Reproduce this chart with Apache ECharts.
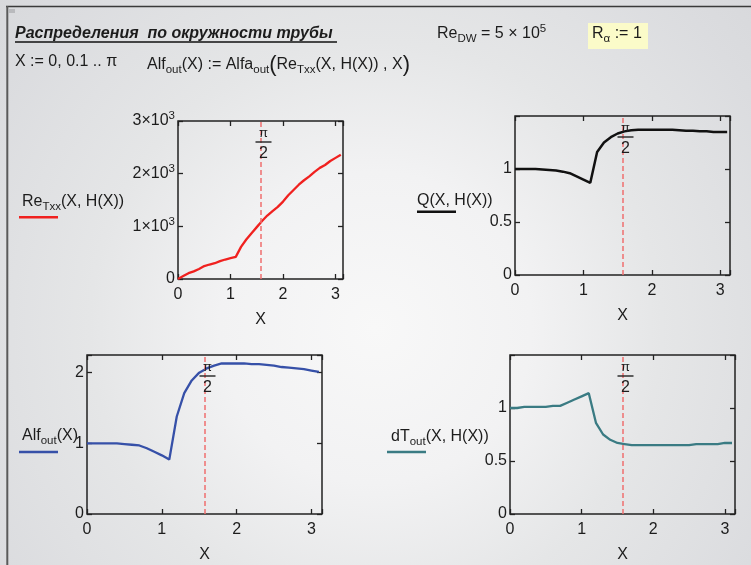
<!DOCTYPE html>
<html>
<head>
<meta charset="utf-8">
<script src="https://cdn.jsdelivr.net/npm/echarts@6/dist/echarts.min.js"></script>
<style>
  html, body { margin: 0; padding: 0; }
  #c { width: 751px; height: 565px; }
</style>
</head>
<body>
<div id="c"></div>
<script>
// Angle around the pipe, X := 0, 0.1 .. π
const xs = [0, 0.1, 0.2, 0.3, 0.4, 0.5, 0.6, 0.7, 0.8, 0.9, 1.0, 1.1, 1.2, 1.3, 1.4, 1.5,
            1.6, 1.7, 1.8, 1.9, 2.0, 2.1, 2.2, 2.3, 2.4, 2.5, 2.6, 2.7, 2.8, 2.9, 3.0, 3.1];

// Re_Txx(X, H(X))
const reTxx = [0, 55, 110, 145, 190, 245, 275, 300, 340, 370, 395, 420, 610, 750, 870, 985,
               1100, 1205, 1290, 1370, 1470, 1590, 1690, 1790, 1875, 1950, 2035, 2110, 2165, 2240, 2300, 2360];

// Q(X, H(X))
const qVals = [1.0, 1.0, 1.0, 1.0, 0.995, 0.99, 0.985, 0.975, 0.96, 0.93, 0.9, 0.87, 1.16, 1.25, 1.3, 1.335,
               1.355, 1.365, 1.37, 1.37, 1.37, 1.37, 1.37, 1.37, 1.365, 1.36, 1.36, 1.355, 1.355, 1.35, 1.35, 1.35];

// Alf_out(X)
const alfOut = [1.0, 1.0, 1.0, 1.0, 1.0, 0.99, 0.98, 0.97, 0.93, 0.88, 0.83, 0.77, 1.38, 1.71, 1.89, 2.0,
                2.06, 2.1, 2.13, 2.13, 2.13, 2.13, 2.12, 2.12, 2.11, 2.1, 2.08, 2.07, 2.06, 2.05, 2.03, 2.01];

// dT_out(X, H(X))
const dTout = [1.0, 1.0, 1.01, 1.01, 1.01, 1.01, 1.02, 1.02, 1.05, 1.08, 1.11, 1.14, 0.86, 0.75, 0.7, 0.67,
               0.66, 0.65, 0.65, 0.65, 0.65, 0.65, 0.65, 0.65, 0.65, 0.65, 0.66, 0.66, 0.66, 0.66, 0.67, 0.67];

// axis ranges
const xMax = Math.PI;
const halfPi = Math.PI / 2;
const yMaxRe = 3000, yMaxQ = 1.5, yMaxAlf = 2.25, yMaxDT = 1.5;

const FONT = '"Liberation Sans", Arial, sans-serif';
const INK = '#1c1c1c';

const chart = echarts.init(document.getElementById('c'), null, { renderer: 'canvas' });

const richBase = {
  n: { fontSize: 16, fontFamily: FONT, color: INK, lineHeight: 22 },
  s: { fontSize: 11.5, fontFamily: FONT, color: INK, lineHeight: 13, verticalAlign: 'bottom' },
  u: { fontSize: 11.5, fontFamily: FONT, color: INK, lineHeight: 13, verticalAlign: 'top' },
  bp: { fontSize: 22, fontFamily: FONT, color: INK, lineHeight: 22 }
};

const boxes = [
  { left: 178, top: 121, width: 165, height: 158 },
  { left: 515, top: 116, width: 215, height: 159 },
  { left: 87,  top: 355, width: 235, height: 159 },
  { left: 510, top: 355, width: 225, height: 159 }
];

const grids = boxes.map(b => ({
  left: b.left, top: b.top, width: b.width, height: b.height,
  show: true, borderColor: '#222', borderWidth: 1.5, backgroundColor: 'transparent'
}));

// short ticks pointing into the plot frame
const tick = { show: true, inside: false, length: -5, lineStyle: { color: '#222', width: 1.3 } };

const xAxes = [];
const yAxes = [];
boxes.forEach((b, i) => {
  xAxes.push({
    gridIndex: i, type: 'value', min: 0, max: xMax, interval: 1, position: 'bottom',
    axisLine: { show: false, onZero: false }, axisTick: tick, splitLine: { show: false },
    axisLabel: {
      formatter: v => (Math.abs(v - Math.round(v)) < 1e-9 ? String(Math.round(v)) : ''),
      color: INK, fontSize: 16, fontFamily: FONT, margin: 8
    },
    name: 'X', nameLocation: 'middle', nameGap: 33,
    nameTextStyle: { color: INK, fontSize: 16, fontFamily: FONT }
  });
  xAxes.push({
    gridIndex: i, type: 'value', min: 0, max: xMax, interval: 1, position: 'top',
    axisLine: { show: false, onZero: false }, axisTick: tick, splitLine: { show: false },
    axisLabel: { show: false }
  });
});

const yLabel = { color: INK, fontSize: 16, fontFamily: FONT, margin: 3, rich: richBase };
const ySpecs = [
  { max: yMaxRe, interval: 1000, fmt: v => v === 0 ? '0' : (v % 1000 === 0 ? '{n|' + (v / 1000) + '×10}{u|3}' : '') },
  { max: yMaxQ, interval: 0.5, fmt: v => (v === 0 ? '0' : v === 0.5 ? '0.5' : v === 1 ? '1' : '') },
  { max: yMaxAlf, interval: 1, fmt: v => (v === 0 ? '0' : v === 1 ? '1' : v === 2 ? '2' : '') },
  { max: yMaxDT, interval: 0.5, fmt: v => (v === 0 ? '0' : v === 0.5 ? '0.5' : v === 1 ? '1' : '') }
];
ySpecs.forEach((s, i) => {
  yAxes.push({
    gridIndex: i, type: 'value', min: 0, max: s.max, interval: s.interval, position: 'left',
    axisLine: { show: false, onZero: false }, axisTick: tick, splitLine: { show: false },
    axisLabel: Object.assign({}, yLabel, { formatter: s.fmt })
  });
  yAxes.push({
    gridIndex: i, type: 'value', min: 0, max: s.max, interval: s.interval, position: 'right',
    axisLine: { show: false, onZero: false }, axisTick: tick, splitLine: { show: false },
    axisLabel: { show: false }
  });
});

// dashed π/2 marker with its fraction label
function halfPiMarks(yTop) {
  return {
    markLine: {
      silent: true, symbol: ['none', 'none'], animation: false,
      lineStyle: { color: '#ef6f6f', type: [5, 3], width: 1.5 },
      label: { show: false },
      data: [{ xAxis: halfPi }]
    },
    markPoint: {
      silent: true, animation: false, symbol: 'circle', symbolSize: 0,
      itemStyle: { color: 'transparent' },
      label: {
        show: true, position: 'bottom', distance: 6, offset: [3, 0], align: 'center',
        formatter: '{p|π}\n{b| }\n{t|2}',
        rich: {
          p: { fontSize: 13, fontFamily: FONT, color: INK, lineHeight: 12, align: 'center' },
          b: { width: 16, height: 1.4, lineHeight: 6, backgroundColor: '#222', fontSize: 1, align: 'center' },
          t: { fontSize: 16, fontFamily: FONT, color: INK, lineHeight: 17, align: 'center' }
        }
      },
      data: [{ coord: [halfPi, yTop] }]
    }
  };
}

function lineSeries(i, name, values, color, width, yTop) {
  return Object.assign({
    type: 'line', name: name,
    xAxisIndex: 2 * i, yAxisIndex: 2 * i,
    data: xs.map((x, k) => [x, values[k]]),
    showSymbol: false, symbol: 'none', smooth: false,
    lineStyle: { color: color, width: width },
    itemStyle: { color: color },
    animation: false, silent: true
  }, halfPiMarks(yTop));
}

const series = [
  lineSeries(0, 'ReTxx', reTxx, '#f0211f', 2.3, yMaxRe),
  lineSeries(1, 'Q', qVals, '#111111', 2.5, yMaxQ),
  lineSeries(2, 'Alf', alfOut, '#3650a8', 2.3, yMaxAlf),
  lineSeries(3, 'dT', dTout, '#3a7b83', 2.3, yMaxDT)
];

// worksheet text, legend captions and frame
function txt(x, y, text, extra) {
  return {
    type: 'text', left: x, top: y, silent: true,
    style: Object.assign({
      text: text, rich: richBase, fontSize: 16, fontFamily: FONT, fill: INK
    }, extra || {})
  };
}
function seg(x1, y1, x2, y2, color, w) {
  return { type: 'line', silent: true, shape: { x1, y1, x2, y2 }, style: { stroke: color, lineWidth: w } };
}

const graphic = [
  // worksheet frame
  seg(6, 6.5, 751, 6.5, '#3a3a3a', 1.6),
  seg(7.3, 6, 7.3, 565, '#5a5a5a', 2),
  { type: 'rect', silent: true, shape: { x: 9, y: 9, width: 6, height: 4 }, style: { fill: '#b9babd' } },

  // header
  txt(15, 26, 'Распределения  по окружности трубы', { fontWeight: 'bold', fontStyle: 'italic', fontSize: 16 }),
  seg(15, 42, 337, 42, '#111', 1.6),
  txt(437, 23, '{n|Re}{s|DW}{n| = 5 × 10}{u|5}'),
  { type: 'rect', silent: true, shape: { x: 588, y: 23, width: 60, height: 26 }, style: { fill: '#fbfbc9' } },
  txt(592, 26, '{n|R}{s|α}{n| := 1}'),
  txt(15, 54, '{n|X := 0, 0.1 .. π}'),
  txt(147, 54, '{n|Alf}{s|out}{n|(X) := Alfa}{s|out}{bp|(}{n|Re}{s|Txx}{n|(X, H(X)) , X}{bp|)}'),

  // legend captions
  txt(22, 194, '{n|Re}{s|Txx}{n|(X, H(X))}'),
  seg(19, 217.3, 58, 217.3, '#f0211f', 2.5),
  txt(417, 193, '{n|Q(X, H(X))}'),
  seg(417, 211.7, 456, 211.7, '#111111', 2.5),
  txt(22, 428, '{n|Alf}{s|out}{n|(X)}'),
  seg(19, 452, 58, 452, '#3650a8', 2.5),
  txt(391, 429, '{n|dT}{s|out}{n|(X, H(X))}'),
  seg(387, 452, 426, 452, '#3a7b83', 2.5)
];

chart.setOption({
  animation: false,
  backgroundColor: {
    type: 'radial', x: 0.5, y: 0.58, r: 0.92,
    colorStops: [
      { offset: 0, color: '#f8f8f8' },
      { offset: 0.3, color: '#f2f2f3' },
      { offset: 0.55, color: '#e5e6e7' },
      { offset: 0.85, color: '#dbdcdf' },
      { offset: 1, color: '#d7d8db' }
    ]
  },
  grid: grids,
  xAxis: xAxes,
  yAxis: yAxes,
  series: series,
  graphic: graphic
});
</script>
</body>
</html>
